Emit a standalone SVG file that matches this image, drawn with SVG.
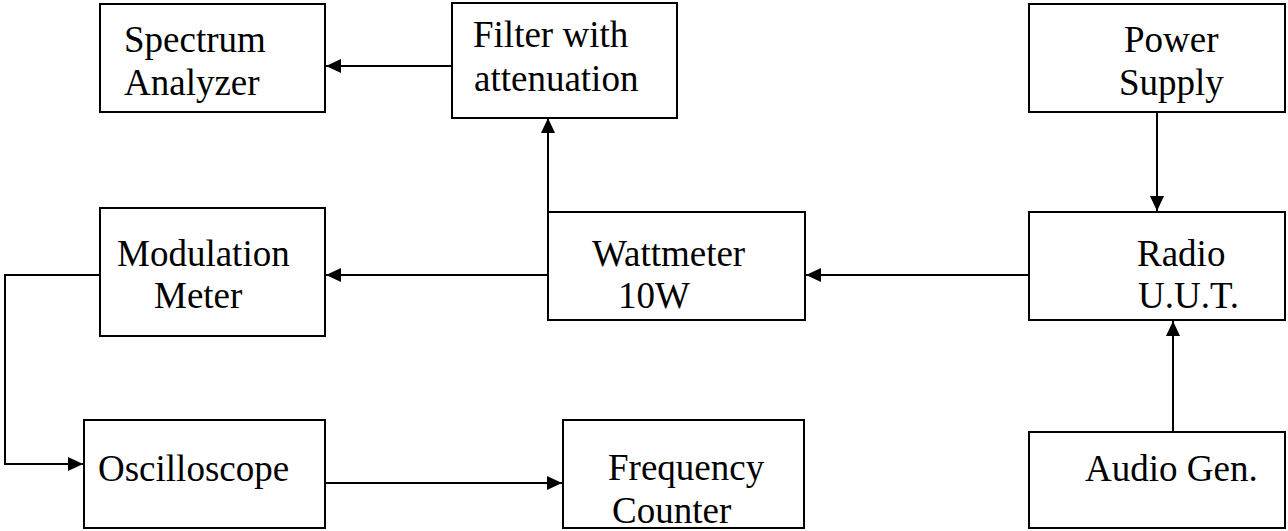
<svg xmlns="http://www.w3.org/2000/svg" width="1288" height="531" viewBox="0 0 1288 531">
<style>
.box{fill:#fff;stroke:#000;stroke-width:2}
.lbl{font-family:"Liberation Serif","Times New Roman",serif;font-size:37px;fill:#000}
.con{fill:none;stroke:#000;stroke-width:2}
</style>
<defs>
<marker id="arr" markerUnits="userSpaceOnUse" markerWidth="16" markerHeight="15" refX="15" refY="7" orient="auto">
<path d="M0,0 L15,7 L0,14 z" fill="#000"/>
</marker>
</defs>
<rect width="1288" height="531" fill="#fff"/>
<g id="connectors">
<line class="con" x1="452" y1="66" x2="326" y2="66" marker-end="url(#arr)"/>
<line class="con" x1="548" y1="212" x2="548" y2="118" marker-end="url(#arr)"/>
<line class="con" x1="548" y1="275" x2="326" y2="275" marker-end="url(#arr)"/>
<line class="con" x1="1029" y1="275" x2="806" y2="275" marker-end="url(#arr)"/>
<line class="con" x1="1157" y1="112" x2="1157" y2="211" marker-end="url(#arr)"/>
<line class="con" x1="1173" y1="432" x2="1173" y2="321" marker-end="url(#arr)"/>
<polyline class="con" points="100,275 5,275 5,464 83,464" marker-end="url(#arr)"/>
<line class="con" x1="325" y1="483" x2="562" y2="483" marker-end="url(#arr)"/>
</g>
<g id="spectrum">
<rect class="box" x="100" y="4" width="225" height="108"/>
<text class="lbl" x="124" y="52">Spectrum</text>
<text class="lbl" x="124" y="95">Analyzer</text>
</g>
<g id="filter">
<rect class="box" x="452" y="3" width="225" height="115"/>
<text class="lbl" x="473" y="47">Filter with</text>
<text class="lbl" x="474" y="91">attenuation</text>
</g>
<g id="power">
<rect class="box" x="1029" y="4" width="256" height="108"/>
<text class="lbl" x="1124" y="52">Power</text>
<text class="lbl" x="1119" y="95">Supply</text>
</g>
<g id="modulation">
<rect class="box" x="100" y="208" width="225" height="128"/>
<text class="lbl" x="117" y="266">Modulation</text>
<text class="lbl" x="154" y="308">Meter</text>
</g>
<g id="wattmeter">
<rect class="box" x="548" y="212" width="257" height="108"/>
<text class="lbl" x="592" y="266">Wattmeter</text>
<text class="lbl" x="618" y="308">10W</text>
</g>
<g id="radio">
<rect class="box" x="1029" y="212" width="256" height="108"/>
<text class="lbl" x="1137" y="266">Radio</text>
<text class="lbl" x="1138" y="308">U.U.T.</text>
</g>
<g id="oscilloscope">
<rect class="box" x="84" y="420" width="241" height="108"/>
<text class="lbl" x="98" y="481">Oscilloscope</text>
</g>
<g id="counter">
<rect class="box" x="563" y="420" width="241" height="108"/>
<text class="lbl" x="608" y="480">Frequency</text>
<text class="lbl" x="612" y="523">Counter</text>
</g>
<g id="audio">
<rect class="box" x="1029" y="432" width="256" height="96"/>
<text class="lbl" x="1085" y="481">Audio Gen.</text>
</g>
</svg>
